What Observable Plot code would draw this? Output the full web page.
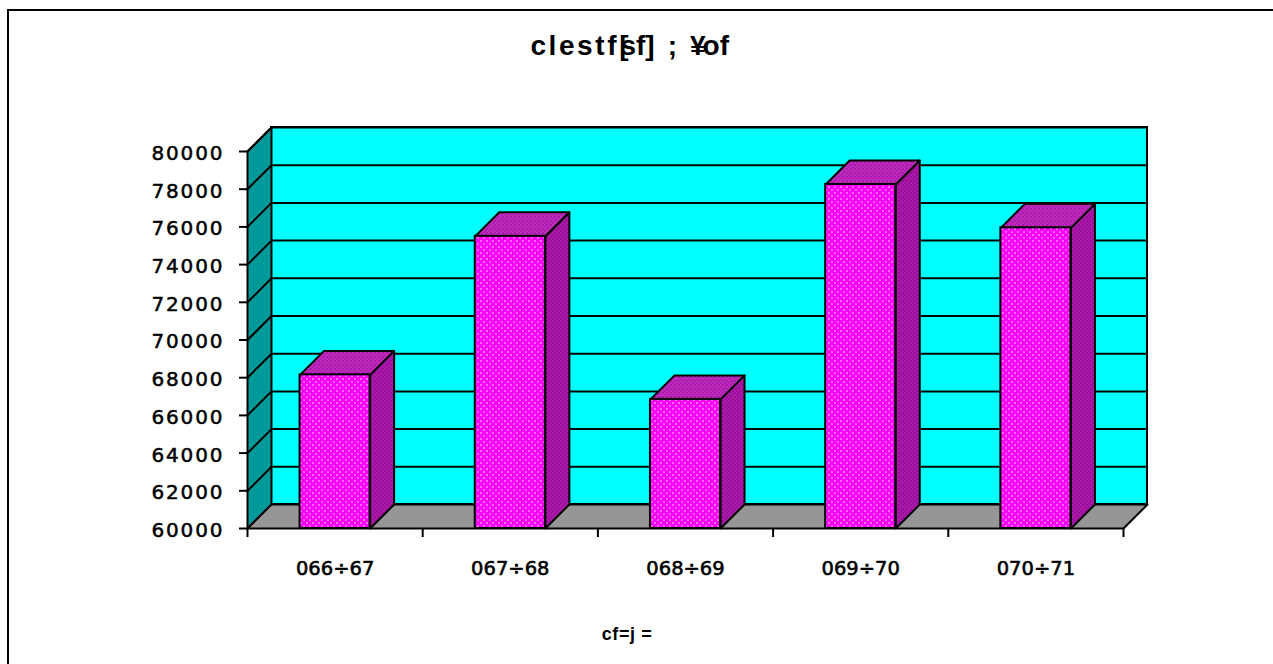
<!DOCTYPE html>
<html><head><meta charset="utf-8">
<script src="https://cdn.jsdelivr.net/npm/d3@7"></script>
<script src="https://cdn.jsdelivr.net/npm/@observablehq/plot@0.6"></script>
<style>
html,body{margin:0;padding:0;background:#fff;overflow:hidden}
#frame{position:absolute;left:7px;top:9px;right:0;bottom:0;border-top:2.5px solid #000;border-left:2.5px solid #000}
#chart{position:absolute;left:0;top:0}
.t{position:absolute;transform:translateX(-50%);white-space:pre;font-family:"Liberation Sans",sans-serif;color:#000;text-align:center}
#title{left:631px;top:30px;font-size:28px;font-weight:700;letter-spacing:2.6px}
#title .tight{letter-spacing:-8px}
#title .tight2{letter-spacing:-3px}
#title .close{letter-spacing:0}
#xtitle{left:627px;top:624px;font-size:18px;font-weight:700;letter-spacing:.6px}
.ylab text{letter-spacing:1.9px}
</style></head><body>
<div id="frame"></div><div id="chart"></div>
<div class="t" id="title"></div><div class="t" id="xtitle"></div>
<script>
const titleParts = [["clestf",""],["[","tight"],["s","close"],["f","close"],["]",""],[" ; ",""],["¥","tight2"],["o","close"],["f",""]];
const axisTitle = "cf=j =";
const categories = ["066÷67","067÷68","068÷69","069÷70","070÷71"];
const values = [68150,75500,66850,78250,75950];
const yTicks = [60000,62000,64000,66000,68000,70000,72000,74000,76000,78000,80000];
const xTicks = [0,1,2,3,4,5];
const yMin = 60000, yMax = 80000;
const depthX = 0.137, depthY = 1273;      // oblique 3D depth, in scale units
const gap = 0.3;                          // bar inset in category units

const titleEl = document.getElementById("title");
titleParts.forEach(([s,c])=>{const e=document.createElement("span");e.textContent=s;if(c)e.className=c;titleEl.append(e);});
document.getElementById("xtitle").textContent = axisTitle;

const floorPts = [[0,yMin],[5,yMin],[5+depthX,yMin+depthY],[depthX,yMin+depthY],[0,yMin]].map(([x,y])=>({x,y}));
const sidePts = [[0,yMin],[depthX,yMin+depthY],[depthX,yMax+depthY],[0,yMax],[0,yMin]].map(([x,y])=>({x,y}));
const fronts = values.map((v,i)=>({x1:i+gap,x2:i+1-gap,y1:yMin,y2:v}));
const barSides = values.flatMap((v,i)=>{const r=i+1-gap;return [[r,yMin],[r+depthX,yMin+depthY],[r+depthX,v+depthY],[r,v],[r,yMin]].map(([x,y])=>({id:i,x,y}));});
const barTops = values.flatMap((v,i)=>{const l=i+gap,r=i+1-gap;return [[l,v],[r,v],[r+depthX,v+depthY],[l+depthX,v+depthY],[l,v]].map(([x,y])=>({id:i,x,y}));});
const inner = yTicks.slice(1);
const labelFont = "'DejaVu Sans',sans-serif";

const plot = Plot.plot({
  width:1273, height:664,
  marginLeft:247, marginRight:150, marginTop:151, marginBottom:136,
  x:{type:"linear",domain:[0,5],axis:null},
  y:{type:"linear",domain:[yMin,yMax],axis:null},
  style:{background:"transparent",fontFamily:labelFont,overflow:"visible",color:"#000"},
  marks:[
    Plot.rect([{}],{x1:()=>depthX,x2:()=>5+depthX,y1:()=>yMin+depthY,y2:()=>yMax+depthY,fill:"#00FFFF",stroke:"#000",strokeWidth:2}),
    Plot.line(sidePts,{x:"x",y:"y",fill:"#009999",stroke:"#000",strokeWidth:2,curve:"linear"}),
    Plot.line(floorPts,{x:"x",y:"y",fill:"#969696",stroke:"#000",strokeWidth:2,curve:"linear"}),
    Plot.link(inner,{x1:()=>depthX,x2:()=>5+depthX,y1:d=>d+depthY,y2:d=>d+depthY,stroke:"#000",strokeWidth:2,curve:"linear"}),
    Plot.link(inner,{x1:()=>0,x2:()=>depthX,y1:d=>d,y2:d=>d+depthY,stroke:"#000",strokeWidth:2,curve:"linear"}),
    Plot.line(barSides,{x:"x",y:"y",z:"id",fill:"url(#pSide)",stroke:"#000",strokeWidth:2,curve:"linear"}),
    Plot.line(barTops,{x:"x",y:"y",z:"id",fill:"url(#pTop)",stroke:"#000",strokeWidth:2,curve:"linear"}),
    Plot.rect(fronts,{x1:"x1",x2:"x2",y1:"y1",y2:"y2",fill:"url(#pFront)",stroke:"#000",strokeWidth:2}),
    Plot.axisY({ticks:yTicks,tickSize:8,strokeWidth:2,label:null,tickFormat:()=>""}),
    Plot.axisX({ticks:xTicks,tickSize:9,strokeWidth:2,label:null,tickFormat:()=>""}),
    Plot.text(yTicks,{x:()=>0,y:d=>d,text:d=>String(d),textAnchor:"end",dx:-23,dy:2,fontSize:20,fontWeight:400,stroke:"#000",strokeWidth:.5,fill:"#000",className:"ylab"}),
    Plot.text(categories,{x:(d,i)=>i+.5,y:()=>yMin,text:d=>d,dy:40,fontSize:19.5,fontWeight:400,stroke:"#000",strokeWidth:.6,fill:"#000"})
  ]
});
const ns="http://www.w3.org/2000/svg";
const defs=document.createElementNS(ns,"defs");
defs.innerHTML=`
<pattern id="pFront" width="6" height="6" patternUnits="userSpaceOnUse">
 <rect width="6" height="6" fill="#FF00FF"/>
 <rect x="0" y="0" width="2" height="2" fill="#FF66FF"/><rect x="3" y="3" width="2" height="2" fill="#FF66FF"/>
 <rect x="2" y="1" width="1" height="1" fill="#D800D8"/><rect x="5" y="4" width="1" height="1" fill="#D800D8"/>
</pattern>
<pattern id="pSide" width="4" height="4" patternUnits="userSpaceOnUse">
 <rect width="4" height="4" fill="#A010A0"/>
 <rect x="0" y="0" width="1" height="1" fill="#C040C0"/><rect x="2" y="2" width="1" height="1" fill="#C040C0"/>
 <rect x="2" y="0" width="1" height="1" fill="#880088"/>
</pattern>
<pattern id="pTop" width="4" height="4" patternUnits="userSpaceOnUse">
 <rect width="4" height="4" fill="#B420B4"/>
 <rect x="0" y="0" width="1" height="1" fill="#D050D0"/><rect x="2" y="2" width="1" height="1" fill="#D050D0"/>
 <rect x="2" y="0" width="1" height="1" fill="#980098"/>
</pattern>`;
plot.prepend(defs);
document.getElementById("chart").append(plot);
</script></body></html>
